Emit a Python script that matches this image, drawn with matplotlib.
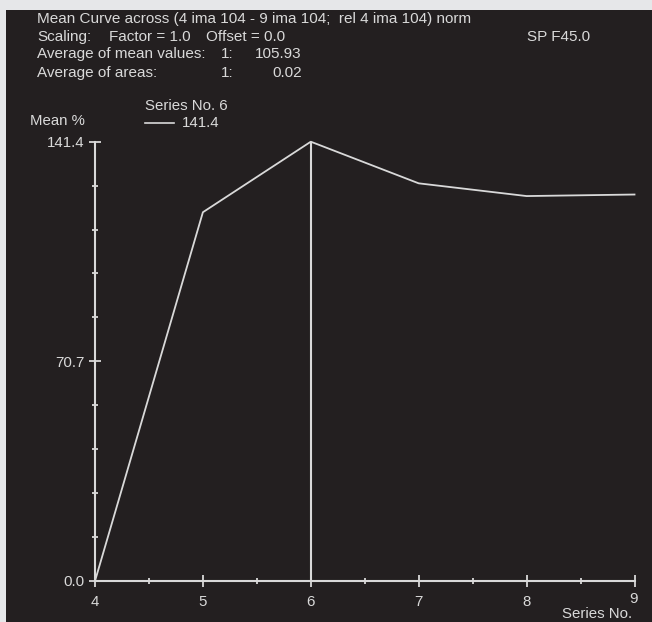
import matplotlib
matplotlib.use("Agg")
import matplotlib.pyplot as plt
from matplotlib.patches import Rectangle

series_no = [4, 5, 6, 7, 8, 9]
mean_pct = [0.0, 118.7, 141.4, 128.0, 123.9, 124.4]
cursor_x = 6
cursor_val = 141.4
y_major = [0.0, 70.7, 141.4]
y_major_labels = ["0.0", "70.7", "141.4"]
x_major = [4, 5, 6, 7, 8, 9]
x_major_labels = ["4", "5", "6", "7", "8", ""]

line1 = "Mean Curve across (4 ima 104 - 9 ima 104;  rel 4 ima 104) norm"
line2_parts = ["Scaling:", "Factor = 1.0", "Offset = 0.0"]
line3_parts = ["Average of mean values:", "1:", "105.93"]
line4_parts = ["Average of areas:", "1:", "0.02"]
right_label = "SP F45.0"

W, H = 652, 622
BG = "#231f20"
FG = "#d9d9d9"
LIGHT = "#e6e7e9"
FS = 10.8
FSH = 11.0

plt.rcParams['font.family'] = ['Liberation Sans', 'DejaVu Sans']
fig = plt.figure(figsize=(W / 100, H / 100), dpi=100)
fig.patch.set_facecolor(BG)
fig.patches.append(Rectangle((0, 0), 6 / W, 1, transform=fig.transFigure,
                             facecolor=LIGHT, edgecolor='none', zorder=0))
fig.patches.append(Rectangle((0, 1 - 10 / H), 1, 10 / H, transform=fig.transFigure,
                             facecolor=LIGHT, edgecolor='none', zorder=0))

x0, x1 = 95, 634.5
y0, y1 = 581, 141.7
ax = fig.add_axes([x0 / W, (H - y0) / H, (x1 - x0) / W, (y0 - y1) / H])
ax.set_facecolor('none')
ax.set_zorder(2)
ax.set_xlim(4, 9)
ax.set_ylim(0, 141.4)
for s in ['top', 'right']:
    ax.spines[s].set_visible(False)
for s in ['left', 'bottom']:
    ax.spines[s].set_color(FG)
    ax.spines[s].set_linewidth(1.5)

ax.plot(series_no, mean_pct, color=FG, lw=1.3, clip_on=False, zorder=3)
ax.plot([cursor_x, cursor_x], [0, cursor_val], color=FG, lw=1.5, zorder=3)

ax.set_yticks(y_major)
ax.set_yticklabels(y_major_labels)
ax.set_yticks([i * 14.14 for i in range(11) if i not in (0, 5, 10)], minor=True)
ax.set_xticks(x_major)
ax.set_xticklabels(x_major_labels)
ax.set_xticks([4.5, 5.5, 6.5, 7.5, 8.5], minor=True)
ax.tick_params(axis='both', which='major', direction='inout', length=8.6, width=1.3,
               color=FG, labelcolor=FG, labelsize=FS)
ax.tick_params(axis='both', which='minor', direction='inout', length=5, width=1.3, color=FG)
ax.tick_params(axis='y', which='major', pad=3)
ax.tick_params(axis='x', which='major', pad=6)


def put(x, y, s, ha='left', fs=FS):
    # y is the baseline in pixels from the top
    fig.text(x / W, 1 - y / H, s, ha=ha, color=FG, fontsize=fs,
             transform=fig.transFigure, va='baseline')


put(37, 23, line1, fs=FSH)
put(37, 41, line2_parts[0], fs=FSH)
put(109, 41, line2_parts[1], fs=FSH)
put(206, 41, line2_parts[2], fs=FSH)
put(37, 58, line3_parts[0], fs=FSH)
put(221, 58, line3_parts[1], fs=FSH)
put(302, 58, line3_parts[2], ha='right', fs=FSH)
put(37, 77, line4_parts[0], fs=FSH)
put(221, 77, line4_parts[1], fs=FSH)
put(302, 77, line4_parts[2], ha='right', fs=FSH)
put(527, 41, right_label, fs=FSH)
put(30, 125, "Mean %")
put(145, 110, "Series No. 6")
fig.lines.append(plt.Line2D([145 / W, 174 / W], [1 - 123 / H, 1 - 123 / H],
                            transform=fig.transFigure, color=FG, lw=1.2))
put(182, 127, "141.4")
put(634, 603, "9", ha='center')
put(632, 618, "Series No.", ha='right')

fig.savefig("out.png", dpi=100, facecolor=fig.get_facecolor())
